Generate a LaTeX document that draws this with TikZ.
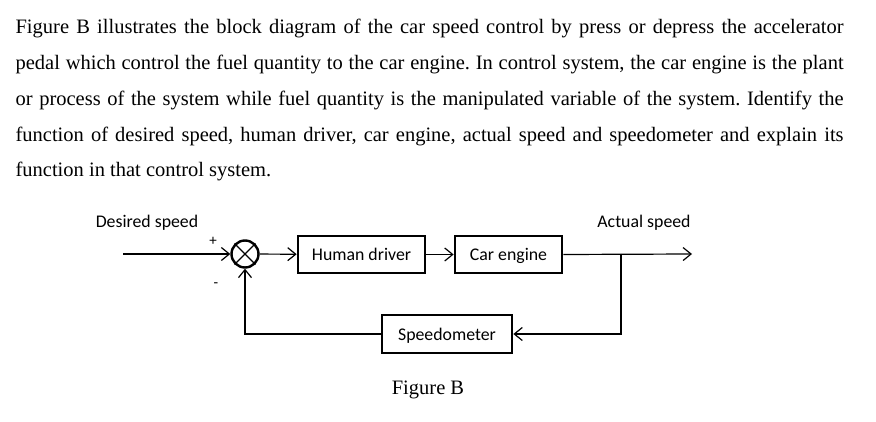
\documentclass[tikz,border=0pt]{standalone}
\usepackage{fontspec}
\setmainfont{Liberation Serif}
\newfontfamily\diagfont{Carlito}
\usetikzlibrary{arrows.meta,positioning}
\frenchspacing

\begin{document}
\begin{tikzpicture}[x=1pt,y=-1pt,>={Straight Barb[length=8pt,width=13pt]},line width=1.2pt,
  block/.style={draw,line width=2.7pt,minimum height=37pt,inner sep=0pt,text height=14.5pt,text depth=1.5pt,font=\diagfont\fontsize{17.8}{20}\selectfont},
  sig/.style={inner sep=0pt,font=\diagfont\fontsize{17.8}{20}\selectfont},
  para/.style={anchor=base west,inner sep=0pt,font=\fontsize{20.5}{24}\selectfont}]
  \useasboundingbox (0,0) rectangle (876,422);
  % question text
  \node[para] (line1) at (15,34) {\makebox[828pt][s]{Figure B illustrates the block diagram of the car speed control by press or depress the accelerator}};
  \node[para] (line2) at (15,70) {\makebox[828pt][s]{pedal which control the fuel quantity to the car engine. In control system, the car engine is the plant}};
  \node[para] (line3) at (15,106) {\makebox[828pt][s]{or process of the system while fuel quantity is the manipulated variable of the system. Identify the}};
  \node[para] (line4) at (15,141.5) {\makebox[828pt][s]{function of desired speed, human driver, car engine, actual speed and speedometer and explain its}};
  \node[para] (line5) at (15,176.5) {function in that control system.};
  % blocks
  \node[draw,circle,line width=2.4pt,minimum size=27pt,inner sep=0pt] (sum) at (245,254) {};
  \draw (sum.north west) -- (sum.south east) (sum.north east) -- (sum.south west);
  \node[block,minimum width=127pt] (driver) at (361.5,254.5) {Human driver};
  \node[block,minimum width=107pt] (engine) at (508.5,254.5) {Car engine};
  \node[block,minimum width=130pt,minimum height=38pt] (meter) at (447,334) {Speedometer};
  % signals
  \coordinate (in) at (123,254);
  \coordinate (out) at (692,254);
  \coordinate (branch) at (621,254);
  \draw[->] (in) -- (sum);
  \draw[->] (sum) -- (driver);
  \draw[->] (driver) -- (engine);
  \draw[->] (engine.east) -- (out);
  \draw[->] (branch) |- (meter);
  \draw[->] (meter) -| (sum);
  % labels
  \node[sig] (desired) at (147,223) {Desired speed};
  \node[sig] (actual) at (644,223) {Actual speed};
  \node[sig,font=\diagfont\fontsize{15}{16}\selectfont] (plus) at (213,241) {+};
  \node[sig,font=\diagfont\fontsize{15}{16}\selectfont] (minus) at (216,285) {-};
  \node[inner sep=0pt,font=\fontsize{20.5}{24}\selectfont] (caption) at (428,390) {Figure B};
\end{tikzpicture}
\end{document}
